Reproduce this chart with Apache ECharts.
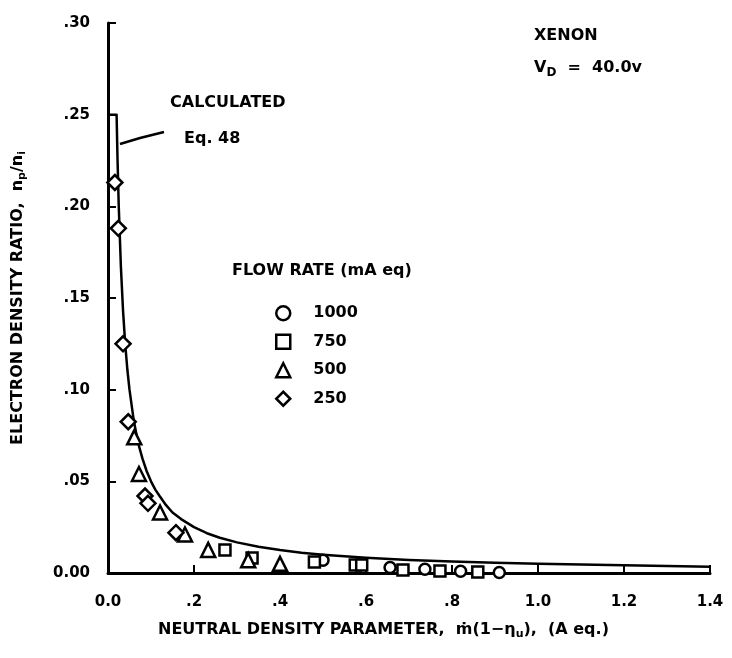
<!DOCTYPE html>
<html lang="en">
<head>
    <meta charset="UTF-8">
    <title>Electron density ratio vs neutral density parameter</title>
    <script src="https://cdn.jsdelivr.net/npm/echarts@6/dist/echarts.min.js"></script>
    <style>
        body, html { margin: 0; padding: 0; background: #fff; }
        #chart { width: 732px; height: 658px; }
    </style>
</head>
<body>
    <div id="chart"></div>
    <script>
        // tick labels as printed on the plot
        var xTickLabels = ['0.0', '.2', '.4', '.6', '.8', '1.0', '1.2', '1.4'];
        var yTickLabels = ['0.00', '.05', '.10', '.15', '.20', '.25', '.30'];

        // calculated curve (Eq. 48)
        var calcCurve = [
            [0.0, 0.25], [0.02, 0.25], [0.022, 0.227], [0.025, 0.20], [0.03, 0.167],
            [0.035, 0.143], [0.04, 0.125], [0.045, 0.111], [0.05, 0.10], [0.06, 0.083],
            [0.07, 0.071], [0.08, 0.0625], [0.09, 0.0555], [0.10, 0.05], [0.11, 0.0455],
            [0.12, 0.042], [0.135, 0.037], [0.15, 0.033], [0.17, 0.0294], [0.20, 0.025],
            [0.23, 0.0217], [0.26, 0.0192], [0.30, 0.0167], [0.35, 0.0143], [0.40, 0.0125],
            [0.45, 0.0111], [0.50, 0.010], [0.60, 0.0083], [0.70, 0.0071], [0.80, 0.0063],
            [0.90, 0.0056], [1.0, 0.005], [1.2, 0.0042], [1.4, 0.0034]
        ];

        // measured points per flow rate (mA eq)
        var flow1000 = [[0.50, 0.007], [0.656, 0.003], [0.737, 0.002], [0.82, 0.001], [0.91, 0.0003]];
        var flow750 = [[0.272, 0.0126], [0.335, 0.0082], [0.48, 0.006], [0.575, 0.0044],
            [0.59, 0.0044], [0.686, 0.0017], [0.772, 0.0011], [0.86, 0.0006]];
        var flow500 = [[0.061, 0.074], [0.072, 0.054], [0.121, 0.033], [0.179, 0.021],
            [0.233, 0.0126], [0.326, 0.007], [0.40, 0.005]];
        var flow250 = [[0.016, 0.213], [0.024, 0.188], [0.035, 0.125], [0.047, 0.0825],
            [0.086, 0.042], [0.093, 0.038], [0.158, 0.022]];

        var font = 'DejaVu Sans';
        var pointStyle = { color: '#fff', borderColor: '#000', borderWidth: 2.5, opacity: 1 };

        var chart = echarts.init(document.getElementById('chart'));
        chart.setOption({
            backgroundColor: '#fff',
            animation: false,
            grid: { left: 108, right: 22, top: 23, bottom: 85 },
            xAxis: {
                type: 'value', min: 0, max: 1.4, interval: 0.2,
                axisLine: { lineStyle: { color: '#000', width: 3, cap: 'round' } },
                axisTick: { inside: true, length: 8, lineStyle: { color: '#000', width: 2 } },
                splitLine: { show: false },
                axisLabel: {
                    margin: 22, color: '#000', fontFamily: font, fontWeight: 'bold', fontSize: 15,
                    formatter: function (v) { return xTickLabels[Math.round(v / 0.2)]; }
                }
            },
            yAxis: {
                type: 'value', min: 0, max: 0.3, interval: 0.05,
                name: 'ELECTRON DENSITY RATIO,  {it|n}{sub|p}{it|/n}{sub|i}',
                nameLocation: 'middle', nameGap: 80, nameRotate: 90,
                nameTextStyle: {
                    color: '#000', fontFamily: font, fontWeight: 'bold', fontSize: 16,
                    rich: {
                        it: { color: '#000', fontFamily: font, fontWeight: 'bold', fontSize: 16 },
                        sub: { color: '#000', fontFamily: font, fontWeight: 'bold', fontSize: 11, padding: [10, 0, 0, 0] }
                    }
                },
                axisLine: { lineStyle: { color: '#000', width: 3 } },
                axisTick: { inside: true, length: 8, lineStyle: { color: '#000', width: 2 } },
                splitLine: { show: false },
                axisLabel: {
                    margin: 18, color: '#000', fontFamily: font, fontWeight: 'bold', fontSize: 15,
                    formatter: function (v) { return yTickLabels[Math.round(v / 0.05)]; }
                }
            },
            legend: {
                orient: 'vertical', left: 270, top: 300, itemGap: 12,
                itemWidth: 14, itemHeight: 14,
                data: ['1000', '750', '500', '250'],
                itemStyle: { color: '#fff', borderColor: '#000', borderWidth: 2.5 },
                textStyle: { color: '#000', fontFamily: font, fontWeight: 'bold', fontSize: 16, padding: [0, 0, 0, 18] }
            },
            series: [
                {
                    name: 'Calculated', type: 'line', data: calcCurve, showSymbol: false,
                    smooth: false, lineStyle: { color: '#000', width: 2.5, join: 'round' }, z: 1
                },
                { name: '1000', type: 'scatter', symbol: 'circle', symbolSize: 11, data: flow1000, itemStyle: pointStyle, z: 3 },
                { name: '750', type: 'scatter', symbol: 'rect', symbolSize: 11, data: flow750, itemStyle: pointStyle, z: 3 },
                { name: '500', type: 'scatter', symbol: 'triangle', symbolSize: 14, data: flow500, itemStyle: pointStyle, z: 3 },
                { name: '250', type: 'scatter', symbol: 'diamond', symbolSize: 15, data: flow250, itemStyle: pointStyle, z: 3 }
            ],
            graphic: [
                { type: 'text', left: 534, top: 28, style: { text: 'XENON', fill: '#000', font: 'bold 16px "DejaVu Sans"' } },
                {
                    type: 'text', left: 534, top: 60,
                    style: {
                        text: 'V{sub|D}  =  40.0v', fill: '#000', font: 'bold 16px "DejaVu Sans"',
                        rich: { sub: { fontSize: 12, fontWeight: 'bold', fontFamily: font, fill: '#000', padding: [10, 0, 0, 0] } }
                    }
                },
                { type: 'text', left: 170, top: 95, style: { text: 'CALCULATED', fill: '#000', font: 'bold 16px "DejaVu Sans"' } },
                { type: 'text', left: 184, top: 131, style: { text: 'Eq. 48', fill: '#000', font: 'bold 16px "DejaVu Sans"' } },
                { type: 'polyline', shape: { points: [[120, 144], [140, 138], [164, 132]] }, style: { stroke: '#000', lineWidth: 2.5 } },
                { type: 'text', left: 232, top: 263, style: { text: 'FLOW RATE (mA eq)', fill: '#000', font: 'bold 16px "DejaVu Sans"' } },
                {
                    type: 'text', left: 158, top: 622,
                    style: {
                        text: 'NEUTRAL DENSITY PARAMETER,  ṁ(1−η{sub|u}),  (A eq.)', fill: '#000', font: 'bold 16px "DejaVu Sans"',
                        rich: { sub: { fontSize: 11, fontWeight: 'bold', fontFamily: font, fill: '#000', padding: [9, 0, 0, 0] } }
                    }
                }
            ]
        });
    </script>
</body>
</html>
